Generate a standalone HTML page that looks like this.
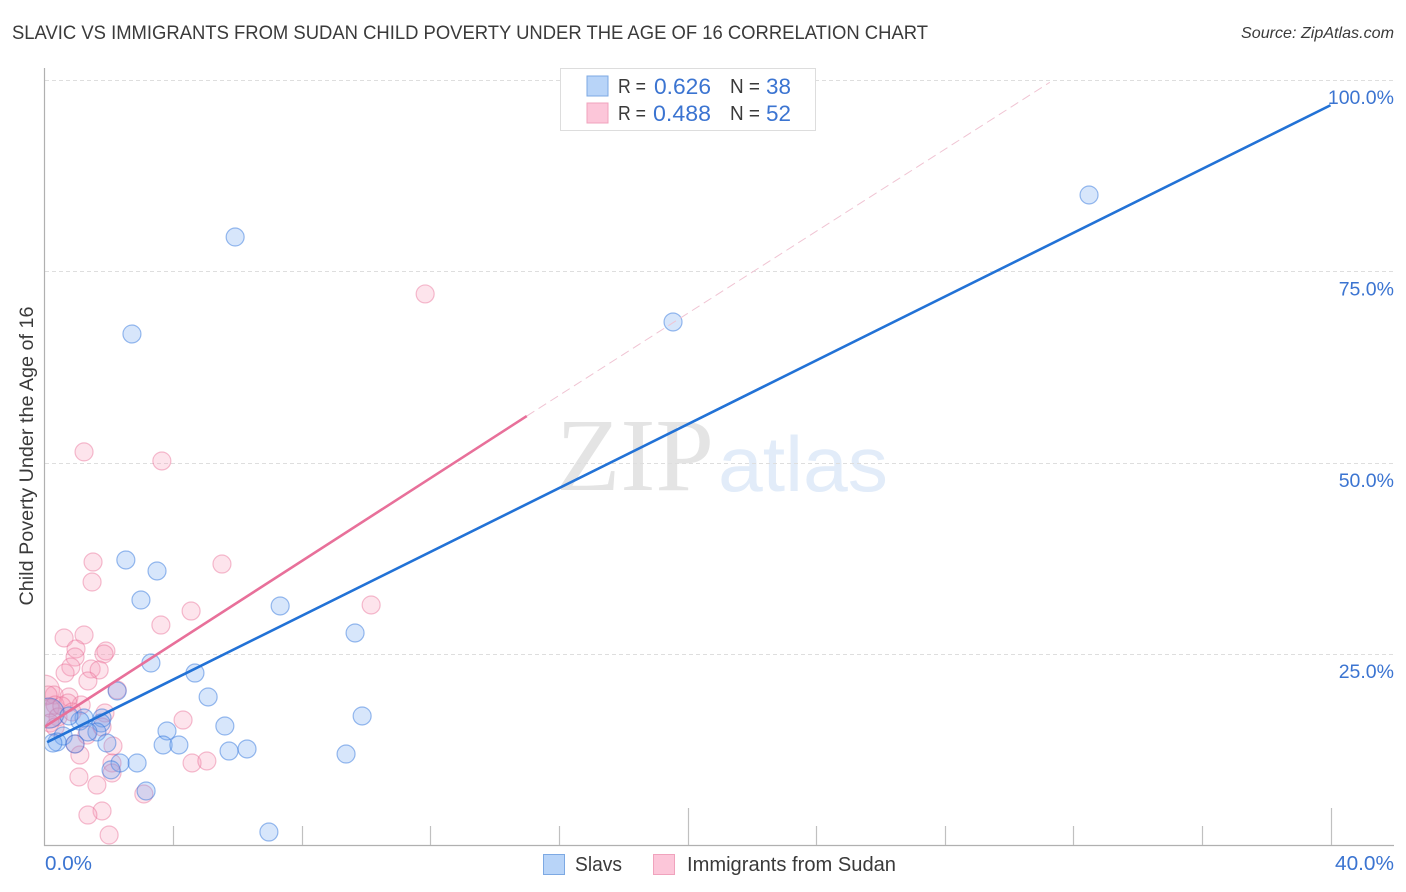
<!DOCTYPE html>
<html lang="en">
<head>
<meta charset="utf-8">
<title>Slavic vs Immigrants from Sudan Child Poverty Correlation Chart</title>
<style>
  html, body { margin: 0; padding: 0; background: #fff; }
  svg { display: block; font-family: "Liberation Sans", sans-serif; }
</style>
</head>
<body>
<svg id="chart" width="1406" height="892" viewBox="0 0 1406 892" xmlns="http://www.w3.org/2000/svg">
  <defs>
    <clipPath id="plot-clip"><rect x="45" y="60" width="1350" height="785"></rect></clipPath>
  </defs>
  <rect width="1406" height="892" fill="#fff"></rect>
  <text x="12" y="39" font-size="19" fill="#3a3a3a" textLength="916" lengthAdjust="spacingAndGlyphs">SLAVIC VS IMMIGRANTS FROM SUDAN CHILD POVERTY UNDER THE AGE OF 16 CORRELATION CHART</text>
  <text x="1241" y="38" font-size="16" font-style="italic" fill="#3a3a3a" textLength="153" lengthAdjust="spacingAndGlyphs">Source: ZipAtlas.com</text>
  <text x="556" y="490" font-size="104" fill="#e4e4e4" style="font-family:'Liberation Serif',serif" textLength="158" lengthAdjust="spacingAndGlyphs">ZIP</text>
  <text x="718" y="491" font-size="78" fill="#e2ecf9" textLength="170" lengthAdjust="spacingAndGlyphs">atlas</text>
  <g id="grid"></g>
  <g id="points" clip-path="url(#plot-clip)"></g>
  <g id="trends"></g>
  <g id="axes"></g>
  <text transform="translate(33,456) rotate(-90)" font-size="19" fill="#3a3a3a" text-anchor="middle" textLength="299" lengthAdjust="spacingAndGlyphs">Child Poverty Under the Age of 16</text>

  <g>
    <rect x="560.5" y="68.5" width="255" height="62" fill="#fff" stroke="#ddd" stroke-width="1"></rect>
    <rect x="587" y="76" width="21" height="20" fill="#b8d4f8" stroke="#7da9e3"></rect>
    <rect x="587" y="103" width="21" height="20" fill="#fcc6d9" stroke="#f0a3bd"></rect>
    <text x="618" y="93" font-size="20" fill="#3a3a3a" textLength="28" lengthAdjust="spacingAndGlyphs">R =</text>
    <text x="654" y="94" font-size="22" fill="#3b74d1" textLength="57" lengthAdjust="spacingAndGlyphs">0.626</text>
    <text x="730" y="93" font-size="20" fill="#3a3a3a" textLength="30" lengthAdjust="spacingAndGlyphs">N =</text>
    <text x="766" y="94" font-size="22" fill="#3b74d1" textLength="25" lengthAdjust="spacingAndGlyphs">38</text>
    <text x="618" y="120" font-size="20" fill="#3a3a3a" textLength="28" lengthAdjust="spacingAndGlyphs">R =</text>
    <text x="653" y="121" font-size="22" fill="#3b74d1" textLength="58" lengthAdjust="spacingAndGlyphs">0.488</text>
    <text x="730" y="120" font-size="20" fill="#3a3a3a" textLength="30" lengthAdjust="spacingAndGlyphs">N =</text>
    <text x="766" y="121" font-size="22" fill="#3b74d1" textLength="25" lengthAdjust="spacingAndGlyphs">52</text>
  </g>

  <g>
    <rect x="543.5" y="854.5" width="21" height="20" fill="#b8d4f8" stroke="#7da9e3"></rect>
    <text x="575" y="871" font-size="20" fill="#3a3a3a" textLength="47" lengthAdjust="spacingAndGlyphs">Slavs</text>
    <rect x="653.5" y="854.5" width="21" height="20" fill="#fcc6d9" stroke="#f0a3bd"></rect>
    <text x="687" y="871" font-size="20" fill="#3a3a3a" textLength="209" lengthAdjust="spacingAndGlyphs">Immigrants from Sudan</text>
  </g>
</svg>

<script>
// Chart data (percent values)
var slavsX = [32.49, 5.93, 19.55, 2.72, 2.53, 3.50, 3.00, 7.33, 9.66, 3.31, 4.68, 2.26, 5.09, 9.88, 1.23, 1.10, 1.79, 1.76, 5.61, 3.81, 1.63, 1.35, 0.76, 0.58, 0.95, 0.39, 0.26, 1.94, 3.69, 4.18, 5.74, 6.30, 9.38, 2.88, 2.35, 2.07, 3.16, 6.98];
var slavsY = [84.98, 79.49, 68.39, 66.82, 37.30, 35.86, 32.07, 31.29, 27.76, 23.84, 22.53, 20.18, 19.40, 16.92, 16.66, 16.26, 16.66, 16.00, 15.61, 14.96, 14.83, 14.83, 16.92, 14.30, 13.26, 13.52, 13.39, 13.39, 13.13, 13.13, 12.34, 12.61, 11.95, 10.78, 10.78, 9.88, 7.12, 1.76];
var sudanX = [11.84, 1.23, 3.65, 1.51, 5.52, 1.48, 4.56, 10.16, 3.62, 1.23, 0.61, 0.98, 0.95, 1.91, 1.85, 0.82, 0.64, 1.45, 1.70, 1.35, 2.26, 0.30, 0.76, 1.14, 0.73, 1.88, 4.31, 2.13, 0.95, 1.10, 4.59, 5.05, 2.10, 2.10, 1.07, 1.63, 3.09, 1.79, 1.35, 2.01, 1.32, 1.79, 0.11, 0.33, 0.17, 0.42, 0.17, 0.33, 0.54, 0.86];
var sudanY = [72.05, 51.42, 50.23, 37.03, 36.77, 34.42, 30.63, 31.42, 28.80, 27.50, 27.11, 25.67, 24.62, 25.41, 25.02, 23.32, 22.53, 23.06, 22.93, 21.49, 20.31, 19.66, 19.40, 18.35, 18.62, 17.31, 16.39, 13.00, 13.26, 11.82, 10.78, 11.04, 10.78, 9.47, 8.95, 7.90, 6.73, 4.51, 3.98, 1.37, 14.43, 15.48, 19.66, 18.35, 17.96, 16.79, 16.00, 15.48, 18.22, 17.44];
var sudanLargeX = [0.00, 0.14];
var sudanLargeY = [20.30, 17.30];
var slavsLargeX = [0.14];
var slavsLargeY = [17.30];
var slavsTrendX = [0.08, 40.00];
var slavsTrendY = [13.50, 96.70];
var sudanTrendX = [0.00, 15.00];
var sudanTrendY = [15.50, 56.10];
var sudanExtensionX = [15.00, 31.27];
var sudanExtensionY = [56.10, 99.70];
var yTickValues = [25, 50, 75, 100];
var yTickLabels = ['25.0%', '50.0%', '75.0%', '100.0%'];
var xTickValues = [4, 8, 12, 16, 20, 24, 28, 32, 36, 40];
var xTickMajor = [20, 40];
var xEdgeLabels = ['0.0%', '40.0%'];

var NS = 'http://www.w3.org/2000/svg';

function xScale(v) { return 44.5 + v * 32.15; }
function yScale(v) { return 845.5 - v * 7.655; }

function make(tag, attrs, parent) {
  var el = document.createElementNS(NS, tag);
  for (var k in attrs) { el.setAttribute(k, attrs[k]); }
  parent.appendChild(el);
  return el;
}

var gridG = document.getElementById('grid');
var pointsG = document.getElementById('points');
var trendsG = document.getElementById('trends');
var axesG = document.getElementById('axes');

yTickValues.forEach(function (v, i) {
  var y = Math.round(yScale(v)) + 0.5;
  var line = make('line', { x1: 45, x2: 1394, y1: y, y2: y, stroke: '#dedede', 'stroke-width': 1, 'stroke-dasharray': '4 3' }, gridG);
  
  
  var label = make('text', { x: 1394, y: yScale(v) + 24, 'font-size': 19.5, fill: '#3b74d1', 'text-anchor': 'end' }, axesG);
  label.textContent = yTickLabels[i];
  
  
});

function drawPoints(xs, ys, radius, fill, stroke, name) {
  xs.forEach(function (x, i) {
    var c = make('circle', { cx: xScale(x), cy: yScale(ys[i]), r: radius, fill: fill, stroke: stroke, 'stroke-width': 1.2 }, pointsG);
    
    
  });
}

var pinkFill = 'rgba(246,155,185,0.27)';
var pinkStroke = 'rgba(232,110,150,0.45)';
var blueFill = 'rgba(110,165,240,0.28)';
var blueStroke = 'rgba(45,115,220,0.48)';

drawPoints(sudanLargeX, sudanLargeY, 15, pinkFill, pinkStroke, 'point-sudan-large');
drawPoints(sudanX, sudanY, 9, pinkFill, pinkStroke, 'point-sudan');
drawPoints(slavsLargeX, slavsLargeY, 15, blueFill, blueStroke, 'point-slavs-large');
drawPoints(slavsX, slavsY, 9, blueFill, blueStroke, 'point-slavs');

var ext = make('line', { x1: xScale(sudanExtensionX[0]), y1: yScale(sudanExtensionY[0]), x2: xScale(sudanExtensionX[1]), y2: yScale(sudanExtensionY[1]), stroke: '#f0c4d3', 'stroke-width': 1, 'stroke-dasharray': '9 5' }, trendsG);



var sudanLine = make('line', { x1: xScale(sudanTrendX[0]), y1: yScale(sudanTrendY[0]), x2: xScale(sudanTrendX[1]), y2: yScale(sudanTrendY[1]), stroke: '#e8709a', 'stroke-width': 2.6 }, trendsG);



var slavsLine = make('line', { x1: xScale(slavsTrendX[0]), y1: yScale(slavsTrendY[0]), x2: xScale(slavsTrendX[1]), y2: yScale(slavsTrendY[1]), stroke: '#2272d6', 'stroke-width': 2.6 }, trendsG);



var yAxis = make('line', { x1: 44.5, x2: 44.5, y1: 68, y2: 846, stroke: '#b0b0b0', 'stroke-width': 1.2 }, axesG);



var xAxis = make('line', { x1: 44, x2: 1394, y1: 845.5, y2: 845.5, stroke: '#b0b0b0', 'stroke-width': 1.2 }, axesG);



xTickValues.forEach(function (v) {
  var x = Math.round(xScale(v)) + 0.5;
  var top = xTickMajor.indexOf(v) >= 0 ? 808 : 826;
  var tick = make('line', { x1: x, x2: x, y1: top, y2: 845, stroke: '#c0c0c0', 'stroke-width': 1.2 }, axesG);
  
  
});

var xLabelLeft = make('text', { x: 45, y: 870, 'font-size': 20, fill: '#3b74d1', textLength: 47, lengthAdjust: 'spacingAndGlyphs' }, axesG);
xLabelLeft.textContent = xEdgeLabels[0];



var xLabelRight = make('text', { x: 1335, y: 870, 'font-size': 20, fill: '#3b74d1', textLength: 59, lengthAdjust: 'spacingAndGlyphs' }, axesG);
xLabelRight.textContent = xEdgeLabels[1];


</script>
</body>
</html>
